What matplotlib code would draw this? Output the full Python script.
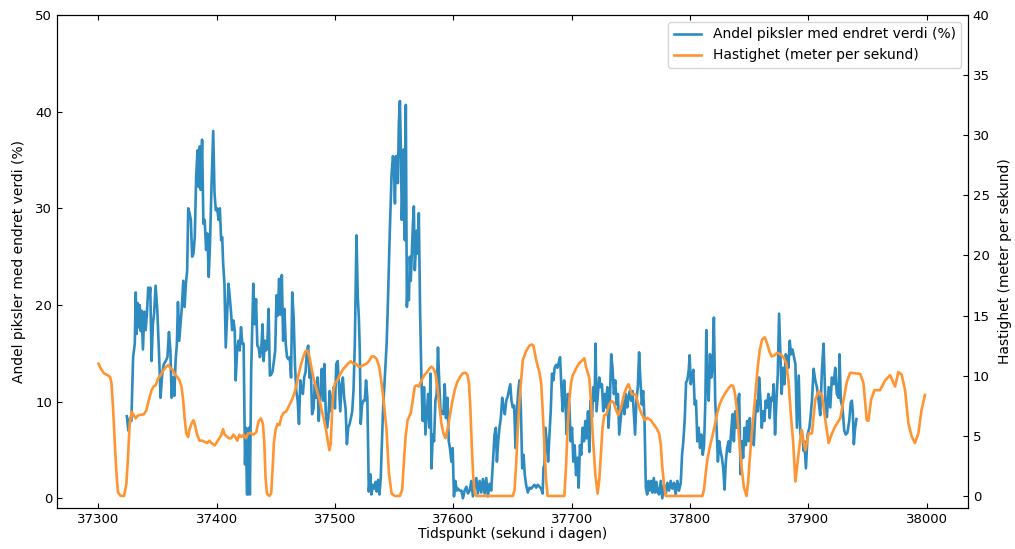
import matplotlib
matplotlib.use("Agg")
import matplotlib.pyplot as plt

# ─── data ──────────────────────────────────────────────────────────────────────

# Andel piksler med endret verdi (%)  – left axis
piksel_t = [
    37324.0, 37325.3, 37326.7, 37327.8, 37329.3, 37330.7, 37331.5, 37332.3, 37333.2, 37334.0,
    37334.9, 37335.7, 37336.5, 37337.6, 37338.8, 37339.9, 37341.0, 37342.1, 37343.0, 37343.8,
    37344.9, 37346.0, 37347.1, 37348.3, 37349.7, 37351.1, 37352.5, 37353.9, 37355.3, 37356.9,
    37358.3, 37359.6, 37360.8, 37361.9, 37363.0, 37364.1, 37365.2, 37366.3, 37367.2, 37368.3,
    37369.4, 37370.5, 37371.7, 37372.8, 37373.9, 37375.0, 37375.9, 37377.0, 37378.1, 37379.2,
    37380.3, 37381.4, 37382.6, 37383.7, 37384.8, 37385.6, 37386.5, 37387.6, 37388.7, 37389.8,
    37391.0, 37392.1, 37393.2, 37394.3, 37395.4, 37397.0, 37398.1, 37399.2, 37400.4, 37401.5,
    37402.6, 37403.7, 37404.6, 37405.4, 37406.5, 37407.6, 37408.7, 37409.9, 37411.0, 37412.1,
    37413.0, 37414.1, 37415.2, 37416.0, 37417.2, 37418.3, 37419.4, 37420.5, 37421.6, 37422.7,
    37423.9, 37424.7, 37425.5, 37426.4, 37427.2, 37428.0, 37429.1, 37430.9, 37432.0, 37433.2,
    37434.3, 37435.4, 37436.5, 37437.6, 37438.7, 37439.6, 37440.7, 37441.8, 37442.9, 37443.8,
    37444.9, 37446.0, 37447.1, 37448.3, 37449.4, 37450.5, 37451.6, 37452.7, 37453.8, 37455.0,
    37456.1, 37457.2, 37458.3, 37459.4, 37460.5, 37461.7, 37462.8, 37463.8, 37465.0, 37466.1,
    37467.2, 37468.4, 37469.5, 37470.6, 37471.7, 37472.8, 37473.9, 37475.1, 37476.2, 37477.3,
    37478.4, 37479.5, 37480.6, 37481.8, 37482.9, 37484.0, 37485.1, 37486.2, 37487.6, 37488.8,
    37489.9, 37491.0, 37492.1, 37493.2, 37494.3, 37495.5, 37496.6, 37497.7, 37498.8, 37499.9,
    37501.0, 37502.2, 37503.3, 37504.4, 37505.5, 37506.6, 37507.7, 37508.9, 37510.0, 37511.1,
    37512.3, 37513.4, 37514.5, 37515.6, 37516.7, 37518.1, 37519.2, 37520.1, 37520.9, 37521.7,
    37522.8, 37524.0, 37525.1, 37526.2, 37527.3, 37528.5, 37529.7, 37530.8, 37531.9, 37533.0,
    37534.2, 37535.2, 37536.4, 37537.5, 37538.6, 37540.5, 37543.6, 37544.4, 37546.3, 37547.8,
    37548.9, 37549.7, 37550.6, 37551.4, 37552.2, 37553.1, 37553.9, 37554.8, 37555.6, 37556.4,
    37557.3, 37558.1, 37559.0, 37559.8, 37560.7, 37561.5, 37562.4, 37563.2, 37564.0, 37564.9,
    37565.7, 37566.6, 37567.4, 37568.3, 37569.1, 37569.9, 37570.8, 37571.9, 37573.0, 37574.1,
    37575.2, 37576.4, 37577.5, 37578.6, 37579.8, 37580.6, 37581.5, 37582.6, 37583.7, 37584.8,
    37585.9, 37587.0, 37588.2, 37589.3, 37590.4, 37591.6, 37592.7, 37593.8, 37595.0, 37596.1,
    37597.1, 37598.3, 37599.4, 37600.5, 37601.7, 37602.8, 37603.9, 37605.3, 37606.8, 37608.1,
    37609.5, 37611.0, 37612.3, 37613.8, 37615.2, 37616.5, 37618.0, 37619.4, 37620.7, 37622.2,
    37623.6, 37625.0, 37626.4, 37627.8, 37629.2, 37630.6, 37632.0, 37633.4, 37634.8, 37635.9,
    37636.8, 37637.9, 37639.0, 37640.1, 37641.3, 37642.4, 37643.5, 37644.7, 37645.8, 37646.9,
    37648.1, 37649.1, 37650.2, 37651.4, 37652.5, 37653.6, 37654.8, 37655.9, 37657.0, 37658.2,
    37659.3, 37660.4, 37661.5, 37662.9, 37664.3, 37665.7, 37667.1, 37668.5, 37670.0, 37671.3,
    37672.7, 37674.2, 37675.5, 37676.1, 37677.0, 37677.8, 37678.9, 37680.1, 37681.2, 37682.3,
    37683.4, 37684.5, 37685.6, 37686.8, 37687.9, 37689.0, 37690.2, 37691.3, 37692.4, 37693.6,
    37694.7, 37695.8, 37696.9, 37698.0, 37699.1, 37700.3, 37701.4, 37702.5, 37703.7, 37704.8,
    37705.9, 37707.0, 37708.1, 37709.2, 37710.4, 37711.5, 37712.6, 37713.8, 37714.9, 37716.0,
    37717.2, 37718.3, 37719.4, 37720.2, 37721.0, 37722.2, 37723.3, 37724.4, 37725.6, 37726.7,
    37727.8, 37729.0, 37730.1, 37731.1, 37732.3, 37733.4, 37734.5, 37735.7, 37736.8, 37737.9,
    37739.1, 37740.2, 37741.3, 37742.4, 37743.6, 37744.6, 37745.8, 37746.9, 37748.0, 37749.2,
    37750.3, 37751.4, 37752.6, 37753.6, 37754.7, 37755.9, 37757.0, 37758.1, 37759.3, 37760.4,
    37761.5, 37762.7, 37763.8, 37764.9, 37766.0, 37767.1, 37768.2, 37769.4, 37770.5, 37771.6,
    37772.8, 37773.9, 37775.3, 37776.6, 37778.1, 37779.5, 37780.9, 37782.3, 37783.7, 37785.1,
    37786.5, 37787.9, 37789.3, 37790.7, 37792.2, 37793.3, 37794.4, 37795.6, 37796.7, 37797.7,
    37798.9, 37799.7, 37800.6, 37801.7, 37802.8, 37804.0, 37805.1, 37806.2, 37807.3, 37808.5,
    37809.6, 37810.8, 37811.9, 37813.0, 37813.8, 37814.7, 37815.8, 37816.9, 37818.0, 37819.1,
    37820.2, 37821.3, 37822.5, 37823.6, 37824.7, 37825.9, 37827.0, 37828.1, 37829.2, 37830.3,
    37831.4, 37832.6, 37833.7, 37834.8, 37836.0, 37837.1, 37838.2, 37839.4, 37840.5, 37841.6,
    37842.7, 37843.8, 37844.9, 37846.1, 37847.2, 37848.3, 37849.5, 37850.6, 37851.7, 37852.8,
    37853.9, 37855.0, 37856.2, 37857.3, 37858.4, 37859.6, 37860.7, 37861.8, 37862.9, 37864.0,
    37865.1, 37866.3, 37867.4, 37868.5, 37869.7, 37870.8, 37871.9, 37873.1, 37874.2, 37875.3,
    37876.4, 37877.5, 37878.6, 37879.8, 37880.9, 37882.0, 37883.2, 37884.3, 37885.4, 37886.6,
    37889.1, 37890.4, 37891.9, 37893.3, 37894.6, 37896.1, 37896.7, 37898.0, 37899.4, 37900.9,
    37901.7, 37903.1, 37904.5, 37905.9, 37907.3, 37908.7, 37910.1, 37911.5, 37912.9, 37914.4,
    37915.7, 37917.2, 37918.6, 37919.9, 37921.4, 37922.8, 37924.1, 37925.6, 37926.4, 37927.5,
    37928.9, 37930.4, 37931.7, 37933.1, 37934.6, 37935.9, 37936.8, 37937.6, 37938.5, 37939.6,
    37940.7,
]
piksel_pst = [
    8.5, 7.0, 8.3, 8.0, 14.6, 16.0, 21.3, 17.0, 20.2, 17.7,
    20.0, 17.3, 19.4, 15.4, 19.3, 17.4, 19.2, 21.8, 20.8, 21.8,
    14.2, 18.0, 19.2, 22.0, 19.6, 15.3, 10.4, 12.9, 13.9, 14.2,
    14.6, 17.2, 15.3, 10.4, 12.5, 10.6, 14.2, 16.0, 20.3, 16.3,
    18.0, 19.8, 22.5, 19.8, 22.2, 23.6, 30.0, 29.5, 28.8, 25.0,
    25.3, 27.0, 33.3, 36.0, 32.2, 36.4, 31.9, 37.1, 28.4, 28.8,
    25.7, 27.4, 22.9, 26.4, 31.6, 38.0, 31.6, 29.8, 30.0, 28.8,
    30.0, 26.7, 27.0, 24.3, 22.2, 15.6, 18.7, 22.2, 20.8, 19.2,
    17.4, 18.4, 17.4, 12.2, 15.3, 16.3, 15.3, 17.7, 16.0, 16.0,
    3.5, 7.3, 0.4, 0.4, 7.3, 0.4, 13.2, 22.2, 18.0, 20.6,
    15.8, 15.6, 14.6, 15.3, 18.0, 14.2, 16.3, 15.3, 16.5, 19.6,
    12.7, 12.8, 13.1, 14.2, 15.3, 21.0, 18.9, 22.7, 19.0, 23.1,
    16.3, 19.6, 16.0, 14.6, 14.4, 14.6, 12.5, 21.3, 18.7, 13.9,
    11.1, 10.1, 7.7, 12.2, 11.1, 10.8, 12.5, 13.1, 15.3, 15.8,
    12.5, 13.4, 8.7, 9.3, 11.8, 10.4, 12.5, 8.0, 11.1, 13.4,
    10.1, 13.9, 9.0, 7.3, 8.3, 11.1, 9.0, 10.1, 11.5, 9.3,
    13.9, 14.2, 11.5, 9.0, 11.8, 12.5, 10.4, 9.3, 5.6, 7.3,
    7.7, 8.3, 9.0, 11.2, 16.0, 27.2, 20.8, 18.7, 15.3, 7.7,
    9.7, 10.1, 10.1, 12.2, 10.4, 0.7, 2.5, 0.4, 1.4, 1.0,
    1.7, 0.7, 1.9, 0.4, 2.1, 9.0, 16.0, 19.1, 27.7, 33.6,
    35.4, 34.7, 30.5, 35.4, 35.4, 32.6, 38.8, 41.1, 36.4, 28.8,
    32.9, 36.1, 26.7, 40.7, 19.8, 22.5, 20.5, 25.0, 22.5, 25.3,
    28.1, 30.2, 23.6, 25.9, 27.7, 25.3, 29.5, 19.1, 12.2, 8.0,
    11.5, 6.6, 8.7, 10.8, 7.3, 12.9, 3.1, 6.6, 5.9, 10.1,
    10.8, 15.6, 11.5, 8.7, 9.0, 8.7, 11.8, 8.3, 10.4, 5.9,
    5.2, 3.8, 5.2, 0.2, 1.8, 0.8, 1.0, 0.8, 0.8, 0.0,
    0.8, 1.2, 0.5, 0.8, 1.8, 0.2, 1.2, 2.1, 0.5, 1.8,
    0.6, 2.0, 0.5, 2.1, 0.2, 1.5, 0.8, 3.8, 6.6, 7.3,
    3.8, 5.9, 7.3, 8.3, 10.4, 9.4, 8.7, 10.1, 10.5, 11.1,
    11.8, 10.1, 9.4, 9.6, 5.2, 8.7, 11.1, 12.2, 9.5, 3.1,
    4.5, 2.4, 1.4, 0.6, 1.1, 1.0, 1.2, 1.4, 1.1, 1.4,
    1.2, 1.0, 0.5, 3.1, 3.5, 7.3, 5.9, 3.8, 6.6, 9.0,
    12.9, 12.2, 13.5, 13.8, 13.5, 14.0, 14.6, 11.5, 9.0, 12.2,
    10.1, 6.6, 10.8, 9.7, 5.9, 7.3, 3.8, 5.5, 2.4, 4.2,
    1.1, 5.5, 4.5, 7.3, 5.9, 8.0, 6.2, 9.0, 4.8, 10.1,
    8.4, 11.5, 10.1, 16.0, 9.0, 10.8, 12.5, 11.5, 11.8, 9.0,
    10.8, 9.4, 11.5, 7.3, 10.1, 14.9, 13.5, 10.8, 12.2, 9.7,
    10.8, 6.6, 8.0, 9.4, 10.1, 8.7, 10.8, 9.4, 10.4, 11.1,
    10.1, 11.1, 8.7, 6.6, 10.1, 11.5, 15.1, 12.2, 9.7, 11.1,
    8.4, 1.1, 0.4, 1.8, 0.8, 1.8, 0.6, 2.1, 0.6, 1.7,
    0.6, 0.4, 1.8, 0.0, 1.4, 0.4, 1.6, 0.8, 1.8, 1.0,
    1.6, 0.4, 1.8, 0.8, 1.6, 4.5, 5.9, 8.3, 12.0, 12.2,
    13.2, 14.8, 11.8, 12.5, 13.3, 9.7, 10.1, 5.9, 7.3, 5.2,
    6.6, 4.5, 5.5, 10.1, 17.4, 11.8, 10.1, 14.9, 12.5, 13.5,
    18.7, 10.1, 7.3, 3.8, 5.9, 4.8, 4.2, 3.1, 0.9, 3.8,
    5.2, 5.9, 4.8, 6.9, 8.7, 5.9, 9.0, 7.3, 10.1, 10.8,
    2.5, 5.9, 4.2, 7.3, 5.5, 8.0, 5.9, 8.3, 5.9, 6.9,
    5.5, 8.3, 10.1, 9.0, 12.5, 10.1, 7.3, 9.0, 8.0, 10.1,
    9.4, 10.8, 8.3, 10.4, 10.1, 11.8, 6.6, 10.1, 12.8, 19.1,
    15.1, 10.8, 13.5, 11.8, 14.9, 14.6, 13.5, 16.3, 14.9, 15.4,
    13.9, 7.3, 12.7, 6.6, 7.0, 4.9, 5.9, 3.1, 6.6, 7.3,
    8.2, 10.1, 13.4, 12.2, 11.5, 10.1, 8.6, 13.2, 16.0, 10.1,
    8.4, 11.5, 9.4, 12.5, 11.8, 13.5, 10.8, 10.4, 14.9, 10.1,
    9.4, 7.0, 6.6, 6.8, 8.0, 9.9, 10.1, 9.0, 5.6, 7.3,
    8.2,
]

# Hastighet (meter per sekund)  – right axis
fart_t = [
    37300.0, 37301.9, 37304.7, 37307.6, 37309.8, 37311.0, 37312.3, 37313.7, 37315.2, 37316.5,
    37318.8, 37321.6, 37323.6, 37325.0, 37326.4, 37328.1, 37330.0, 37331.4, 37333.4, 37338.4,
    37340.4, 37342.6, 37344.9, 37346.6, 37348.3, 37350.6, 37352.8, 37355.3, 37357.3, 37359.0,
    37360.9, 37362.9, 37364.6, 37366.6, 37368.5, 37370.2, 37371.6, 37372.7, 37374.2, 37375.8,
    37376.9, 37378.6, 37380.3, 37382.0, 37383.4, 37385.4, 37387.6, 37389.8, 37391.9, 37393.8,
    37395.5, 37398.3, 37400.3, 37402.2, 37403.9, 37405.3, 37406.7, 37408.1, 37410.1, 37412.3,
    37414.0, 37415.7, 37417.4, 37419.1, 37420.8, 37422.7, 37424.7, 37426.4, 37428.3, 37431.1,
    37433.4, 37435.3, 37437.4, 37439.0, 37440.2, 37441.2, 37442.4, 37444.4, 37446.0, 37447.1,
    37448.3, 37449.7, 37451.4, 37453.0, 37454.7, 37456.4, 37458.4, 37460.1, 37462.1, 37464.0,
    37466.0, 37467.7, 37469.4, 37471.1, 37472.8, 37474.7, 37476.6, 37478.3, 37480.3, 37482.3,
    37484.6, 37486.8, 37488.8, 37490.7, 37492.4, 37493.8, 37495.2, 37496.4, 37497.5, 37498.6,
    37500.0, 37501.9, 37504.2, 37506.5, 37508.7, 37510.9, 37513.2, 37515.4, 37517.7, 37520.0,
    37522.2, 37524.4, 37526.7, 37528.9, 37530.9, 37532.8, 37535.1, 37537.3, 37539.3, 37541.3,
    37543.5, 37545.5, 37547.8, 37550.5, 37554.8, 37556.7, 37558.1, 37559.6, 37561.3, 37562.6,
    37564.0, 37565.7, 37567.4, 37569.1, 37570.8, 37572.5, 37574.1, 37575.8, 37577.8, 37579.8,
    37581.5, 37583.2, 37584.8, 37586.5, 37588.2, 37589.9, 37591.6, 37593.3, 37595.0, 37596.9,
    37598.8, 37601.1, 37603.4, 37605.6, 37607.9, 37610.1, 37611.8, 37613.2, 37614.3, 37615.4,
    37616.6, 37618.0, 37619.4, 37650.3, 37651.7, 37653.1, 37654.4, 37655.9, 37658.7, 37661.5,
    37664.3, 37666.3, 37667.7, 37670.0, 37672.7, 37674.2, 37675.5, 37677.0, 37678.4, 37679.7,
    37693.8, 37695.2, 37696.6, 37698.0, 37699.5, 37700.8, 37703.7, 37706.4, 37709.2, 37710.7,
    37712.1, 37714.9, 37716.3, 37717.7, 37719.9, 37721.9, 37723.3, 37724.7, 37726.1, 37727.5,
    37729.4, 37731.7, 37733.7, 37735.4, 37737.4, 37739.3, 37741.6, 37744.4, 37746.3, 37748.0,
    37749.4, 37750.9, 37752.8, 37754.2, 37755.6, 37757.6, 37759.8, 37761.8, 37764.0, 37766.9,
    37769.7, 37771.9, 37773.9, 37775.3, 37776.6, 37778.1, 37779.5, 37810.4, 37811.8, 37813.2,
    37814.6, 37816.8, 37818.8, 37820.8, 37823.0, 37825.0, 37827.2, 37830.1, 37832.9, 37834.8,
    37836.5, 37837.9, 37839.4, 37840.7, 37842.1, 37843.6, 37845.5, 37847.8, 37849.1, 37850.6,
    37852.2, 37853.9, 37855.6, 37857.3, 37859.0, 37860.9, 37863.2, 37865.1, 37867.2, 37869.1,
    37871.4, 37873.6, 37876.4, 37879.2, 37881.5, 37883.4, 37885.4, 37887.1, 37889.1, 37894.1,
    37897.5, 37900.3, 37903.1, 37905.9, 37908.7, 37911.5, 37914.4, 37917.2, 37920.0, 37922.8,
    37927.0, 37929.8, 37932.6, 37935.4, 37939.6, 37943.9, 37946.6, 37949.4, 37950.8, 37953.1,
    37955.9, 37960.7, 37964.9, 37969.1, 37973.4, 37976.1, 37978.9, 37981.8, 37984.6, 37987.4,
    37990.2, 37993.0, 37995.8, 37998.6,
]
fart_ms = [
    11.0, 10.6, 10.2, 10.05, 9.9, 9.4, 7.4, 4.6, 1.9, 0.3,
    0.0, 0.0, 1.0, 3.25, 6.0, 7.0, 6.7, 6.45, 6.7, 6.8,
    7.1, 8.0, 8.8, 9.1, 9.2, 9.8, 10.1, 10.5, 10.75, 10.9,
    10.6, 10.5, 10.1, 9.9, 9.6, 9.1, 8.0, 6.6, 5.2, 4.9,
    5.5, 6.0, 6.3, 5.75, 5.1, 4.6, 4.6, 4.5, 4.4, 4.6,
    4.4, 4.2, 4.5, 4.8, 5.1, 5.55, 5.1, 5.0, 4.8, 4.8,
    5.1, 4.9, 4.6, 5.1, 4.9, 5.1, 4.8, 5.2, 5.25, 5.1,
    5.3, 6.2, 6.45, 6.0, 4.4, 1.6, 0.2, 0.0, 0.2, 2.1,
    4.4, 5.5, 6.0, 5.9, 6.6, 6.9, 7.0, 7.3, 7.7, 8.1,
    8.7, 9.4, 10.2, 10.9, 11.45, 12.0, 12.1, 11.6, 10.5, 9.6,
    8.8, 8.0, 7.1, 6.3, 5.5, 4.6, 3.8, 4.4, 7.1, 8.8,
    9.4, 9.6, 10.1, 10.5, 10.75, 11.0, 11.2, 11.0, 11.0, 10.75,
    10.8, 10.9, 11.0, 11.25, 11.6, 11.6, 11.4, 10.75, 9.4, 7.7,
    5.5, 1.9, 0.2, 0.0, 0.0, 0.5, 2.7, 4.9, 6.3, 6.6,
    6.9, 8.0, 9.1, 9.2, 9.1, 9.5, 9.8, 10.1, 10.3, 10.6,
    10.75, 10.6, 10.2, 9.1, 7.4, 6.0, 5.2, 4.8, 5.5, 6.6,
    7.7, 8.8, 9.5, 9.9, 10.2, 10.25, 10.1, 9.4, 7.4, 4.6,
    1.9, 0.2, 0.0, 0.0, 0.5, 2.7, 5.5, 8.0, 11.3, 12.05,
    12.5, 12.6, 12.5, 11.3, 10.3, 9.4, 7.1, 4.1, 1.3, 0.0,
    0.0, 2.4, 5.7, 8.0, 9.4, 10.0, 10.6, 11.05, 11.3, 11.45,
    10.75, 9.8, 7.9, 5.2, 1.9, 0.2, 1.3, 3.5, 5.7, 6.7,
    6.8, 7.6, 7.9, 7.8, 7.2, 6.7, 7.3, 8.5, 9.0, 9.3,
    8.9, 8.45, 8.45, 8.45, 7.85, 7.2, 6.7, 6.3, 6.5, 6.3,
    5.9, 5.6, 5.2, 4.3, 2.4, 0.9, 0.0, 0.0, 0.5, 1.8,
    3.0, 4.1, 4.9, 5.8, 6.9, 7.6, 8.1, 8.6, 9.0, 9.2,
    9.15, 8.6, 7.4, 5.8, 4.1, 2.4, 0.75, 0.0, 1.1, 3.2,
    5.2, 6.9, 8.8, 10.75, 12.15, 13.0, 13.2, 12.7, 12.0, 11.6,
    11.7, 11.9, 11.8, 11.5, 11.0, 9.4, 6.6, 4.6, 1.2, 5.5,
    3.8, 5.2, 5.2, 8.0, 8.7, 8.4, 6.3, 4.4, 5.2, 5.8,
    6.45, 8.0, 9.5, 10.25, 10.2, 10.15, 9.4, 6.3, 6.25, 8.0,
    8.8, 8.8, 9.6, 10.05, 9.1, 10.3, 10.1, 8.8, 6.05, 4.95,
    4.4, 5.2, 7.2, 8.4,
]

x_ticks = [37300, 37400, 37500, 37600, 37700, 37800, 37900, 38000]
venstre_ticks = [0, 10, 20, 30, 40, 50]
hoyre_ticks = [0, 5, 10, 15, 20, 25, 30, 35, 40]

BLA = '#2E8BC0'
ORANSJE = '#FF9433'

# ─── plot ──────────────────────────────────────────────────────────────────────

fig = plt.figure(figsize=(10.15, 5.49), dpi=100)
ax1 = fig.add_axes([0.0562, 0.0747, 0.8975, 0.898])
ax2 = ax1.twinx()

l1, = ax1.plot(piksel_t, piksel_pst, color=BLA, lw=1.9,
               label='Andel piksler med endret verdi (%)')
l2, = ax2.plot(fart_t, fart_ms, color=ORANSJE, lw=1.9,
               label='Hastighet (meter per sekund)')

ax1.set_xlim(37265, 38035)
ax1.set_ylim(-1, 50)
ax2.set_ylim(-1, 40)
ax1.set_xticks(x_ticks)
ax1.set_yticks(venstre_ticks)
ax2.set_yticks(hoyre_ticks)

ax1.tick_params(axis='x', direction='in', top=True, labelsize=9.5)
ax1.tick_params(axis='y', direction='in', labelsize=9.5)
ax2.tick_params(axis='y', direction='in', labelsize=9.5)

ax1.set_xlabel('Tidspunkt (sekund i dagen)', fontsize=10, labelpad=1)
ax1.set_ylabel('Andel piksler med endret verdi (%)', fontsize=10, labelpad=7)
ax2.set_ylabel('Hastighet (meter per sekund)', fontsize=10, labelpad=6)

ax2.legend(handles=[l1, l2], loc='upper right', fontsize=10)

fig.savefig('out.png', dpi=100)
